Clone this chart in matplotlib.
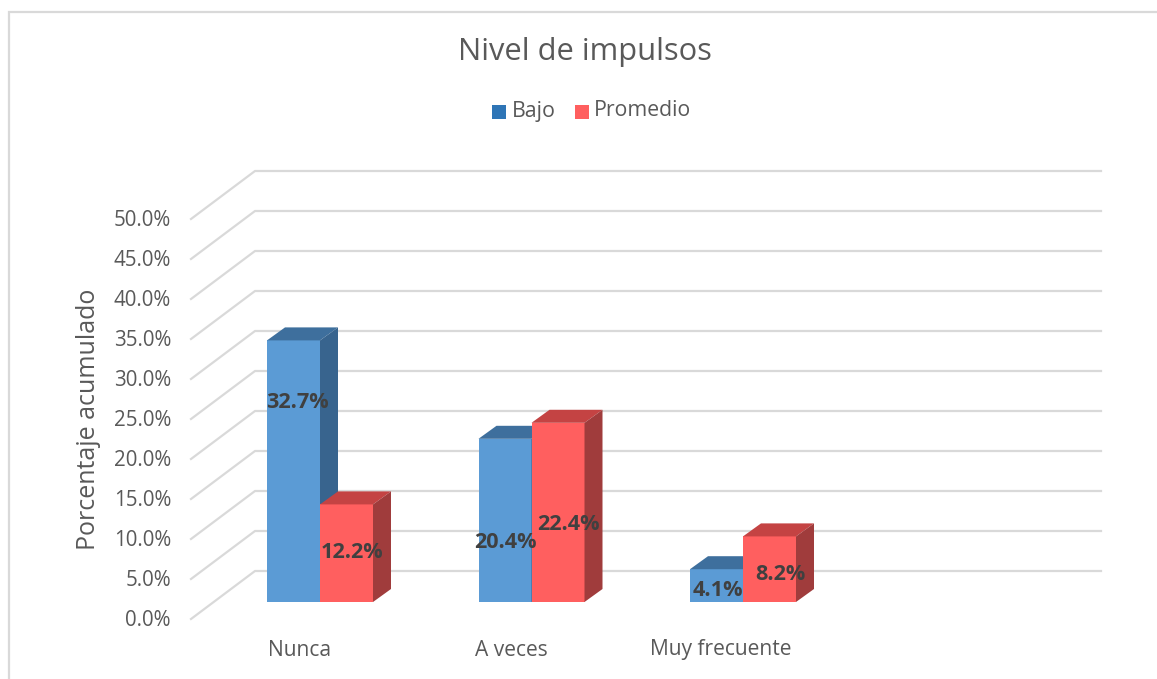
#Nivel de impulsos
import matplotlib
matplotlib.use('Agg')
import matplotlib.pyplot as plt
from matplotlib.patches import Polygon, Rectangle

categorias = ['Nunca', 'A veces', 'Muy frecuente']
bajo = [32.7, 20.4, 4.1]
promedio = [12.2, 22.4, 8.2]
ticks = [0, 5, 10, 15, 20, 25, 30, 35, 40, 45, 50]

# las etiquetas de datos estan movidas a mano en el original (pixeles)
etiq_bajo_x = [297, 505, 718]
etiq_bajo_y = [402, 543, 591]
etiq_prom_x = [352, 568, 780]
etiq_prom_y = [553, 525, 575]
cat_x = [299.5, 511, 721]

plt.rcParams['font.family'] = ['Open Sans', 'DejaVu Sans']

W, H = 1157, 679
fig = plt.figure(figsize=(W / 100, H / 100), dpi=100)
ax = fig.add_axes([0, 0, 1, 1])
ax.set_xlim(-320 / 211.5, (W - 320) / 211.5)
ax.set_ylim((618 - H) / 8, 618 / 8)
ax.axis('off')

# un pixel en unidades de datos
px = 1 / 211.5
py = 1 / 8


def X(p):
    return (p - 320) * px


def Y(p):
    return (618 - p) * py


# marco
ax.add_patch(Rectangle((X(9), Y(690)), (1170 - 9) * px, (690 - 12) * py,
                       fill=False, ec='#d9d9d9', lw=1.6))

# rejilla con perspectiva
gris = '#d9d9d9'
for t in ticks:
    ax.plot([X(191), X(255), X(1101)], [t - 1 * py, t + 47 * py, t + 47 * py],
            color=gris, lw=1.6, zorder=1, solid_joinstyle='miter')
    ax.text(X(171), t - 3 * py, f'{t:.1f}%', ha='right', va='center', fontsize=14.8, color='#595959')


def barra3d(x, valor, frente, tapa, lado):
    ancho = 53 * px
    dx = 18 * px
    dy = 13 * py
    base = 16 * py
    ax.bar(x, valor, ancho, bottom=base, align='edge', color=frente, zorder=3)
    ax.add_patch(Polygon([(x, base + valor), (x + ancho, base + valor),
                          (x + ancho + dx, base + valor + dy), (x + dx, base + valor + dy)],
                         color=tapa, lw=0, zorder=3))
    ax.add_patch(Polygon([(x + ancho, base), (x + ancho + dx, base + dy),
                          (x + ancho + dx, base + valor + dy), (x + ancho, base + valor)],
                         color=lado, lw=0, zorder=3))


for i in range(len(categorias)):
    barra3d(i - 53 * px, bajo[i], '#5b9bd5', '#3e6f9d', '#38648e')
    barra3d(i, promedio[i], '#ff5f5f', '#c44343', '#a03c3c')

for i in range(len(categorias)):
    ax.text(X(etiq_bajo_x[i]), Y(etiq_bajo_y[i]), f'{bajo[i]:.1f}%', ha='center', va='center',
            fontsize=15.6, fontweight='bold', color='#404040', zorder=5)
    ax.text(X(etiq_prom_x[i]), Y(etiq_prom_y[i]), f'{promedio[i]:.1f}%', ha='center', va='center',
            fontsize=15.6, fontweight='bold', color='#404040', zorder=5)
    ax.text(X(cat_x[i]), Y(650), categorias[i], ha='center', va='center', fontsize=15.1, color='#595959')

# titulo, eje y leyenda
ax.text(X(585), Y(52), 'Nivel de impulsos', ha='center', va='center', fontsize=22.2, color='#595959')
ax.text(X(89), Y(419), 'Porcentaje acumulado', rotation=90, ha='center', va='center',
        fontsize=18, color='#595959')

ax.add_patch(Rectangle((X(492), Y(118.5)), 14 * px, 14 * py, color='#2e75b6', lw=0))
ax.text(X(512), Y(111), 'Bajo', ha='left', va='center', fontsize=15.4, color='#595959')
ax.add_patch(Rectangle((X(574.5), Y(118.5)), 14 * px, 14 * py, color='#ff5f5f', lw=0))
ax.text(X(594), Y(111), 'Promedio', ha='left', va='center', fontsize=15.3, color='#595959')

fig.savefig('out.png', dpi=100)
